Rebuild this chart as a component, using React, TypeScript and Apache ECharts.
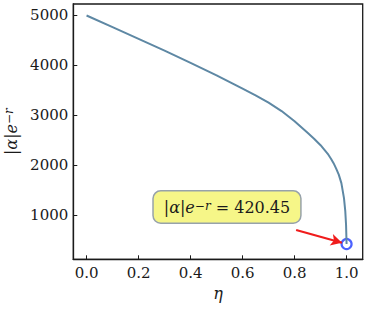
import React, { useEffect, useRef } from "react";
import * as echarts from "echarts";

const etaValues = [0, 0.1, 0.2, 0.3, 0.4, 0.5, 0.6, 0.65, 0.7, 0.75, 0.8, 0.85, 0.875, 0.9, 0.915, 0.93, 0.94, 0.95, 0.96, 0.97, 0.98, 0.99, 0.995, 0.998, 1.0];
const alphaValues = [5000, 4765, 4530, 4295, 4050, 3800, 3533, 3400, 3252, 3085, 2880, 2650, 2530, 2400, 2305, 2210, 2130, 2040, 1930, 1810, 1640, 1340, 1080, 800, 420.45];
const xTickValues = [0, 0.2, 0.4, 0.6, 0.8, 1.0];
const yTickValues = [1000, 2000, 3000, 4000, 5000];
const markedPoint = [1.0, 420.45];
const annotationAnchor = [0.54, 1160];
const arrowStart = [0.806, 700];
const arrowEnd = [0.982, 446];

const FONT = "DejaVu Serif";
const INK = "#1a1a1a";

export default function App() {
  const ref = useRef<HTMLDivElement>(null);
  useEffect(() => {
    document.body.style.margin = "0";
    const chart = echarts.init(ref.current!, null, { renderer: "svg" });
    const rich = {
      n: { fontFamily: FONT, fontSize: 16, color: INK },
      i: { fontFamily: FONT, fontSize: 16, fontStyle: "italic", color: INK },
      s: { fontFamily: FONT, fontSize: 12, color: INK, verticalAlign: "top" },
      si: { fontFamily: FONT, fontSize: 12, fontStyle: "italic", color: INK, verticalAlign: "top" },
    };
    chart.setOption({
      animation: false,
      textStyle: { fontFamily: FONT },
      grid: {
        left: 73.3,
        right: 11.3,
        top: 4,
        bottom: 49.7,
        show: true,
        borderColor: INK,
        borderWidth: 1.3,
        backgroundColor: "transparent",
        outerBoundsMode: "none",
      },
      xAxis: {
        type: "value",
        min: -0.051,
        max: 1.062,
        name: "η",
        nameLocation: "middle",
        nameGap: 24,
        nameTextStyle: { fontFamily: FONT, fontSize: 16, fontStyle: "italic", color: INK },
        axisLine: { show: true, onZero: false, lineStyle: { color: INK, width: 1.3 } },
        axisTick: { show: true, inside: true, length: 4, lineStyle: { color: INK, width: 1 }, customValues: xTickValues },
        axisLabel: {
          show: true,
          margin: 6,
          fontFamily: FONT,
          fontSize: 15,
          color: INK,
          customValues: xTickValues,
          formatter: (v: number) => v.toFixed(1),
        },
        splitLine: { show: false },
      },
      yAxis: {
        type: "value",
        min: 114,
        max: 5230,
        name: "{n||}{i|α}{n||}{i|e}{s|−}{si|r}",
        nameLocation: "middle",
        nameGap: 32,
        nameTextStyle: { fontFamily: FONT, fontSize: 16, color: INK, rich },
        axisLine: { show: true, onZero: false, lineStyle: { color: INK, width: 1.3 } },
        axisTick: { show: true, inside: true, length: 4, lineStyle: { color: INK, width: 1 }, customValues: yTickValues },
        axisLabel: {
          show: true,
          margin: 5,
          fontFamily: FONT,
          fontSize: 15,
          color: INK,
          customValues: yTickValues,
          formatter: (v: number) => String(Math.round(v)),
        },
        splitLine: { show: false },
      },
      series: [
        {
          type: "line",
          data: etaValues.map((e, k) => [e, alphaValues[k]]),
          showSymbol: false,
          symbol: "none",
          smooth: false,
          lineStyle: { color: "#5e88a4", width: 2, join: "round" },
          silent: true,
          markLine: {
            silent: true,
            symbol: ["none", "arrow"],
            symbolSize: [9, 11],
            label: { show: false },
            lineStyle: { color: "#f01c1c", width: 2.2, type: "solid" },
            data: [[{ coord: arrowStart }, { coord: arrowEnd }]],
          },
          markPoint: {
            silent: true,
            symbol: "circle",
            symbolSize: 0,
            data: [
              {
                coord: annotationAnchor,
                label: {
                  show: true,
                  position: "inside",
                  formatter: "{n||}{i|α}{n||}{i|e}{s|−}{si|r}{n| = 420.45}",
                  rich,
                  backgroundColor: "#f6f688",
                  borderColor: "#97a2aa",
                  borderWidth: 1.5,
                  borderRadius: 7,
                  padding: [8, 10, 7, 10],
                },
              },
            ],
          },
        },
        {
          type: "scatter",
          data: [markedPoint],
          symbol: "circle",
          symbolSize: 10,
          silent: true,
          itemStyle: { color: "rgba(0,0,0,0)", borderColor: "#1f3bff", borderWidth: 2.2 },
        },
      ],
    });
    return () => chart.dispose();
  }, []);
  return <div ref={ref} style={{ width: 374, height: 309 }} />;
}
